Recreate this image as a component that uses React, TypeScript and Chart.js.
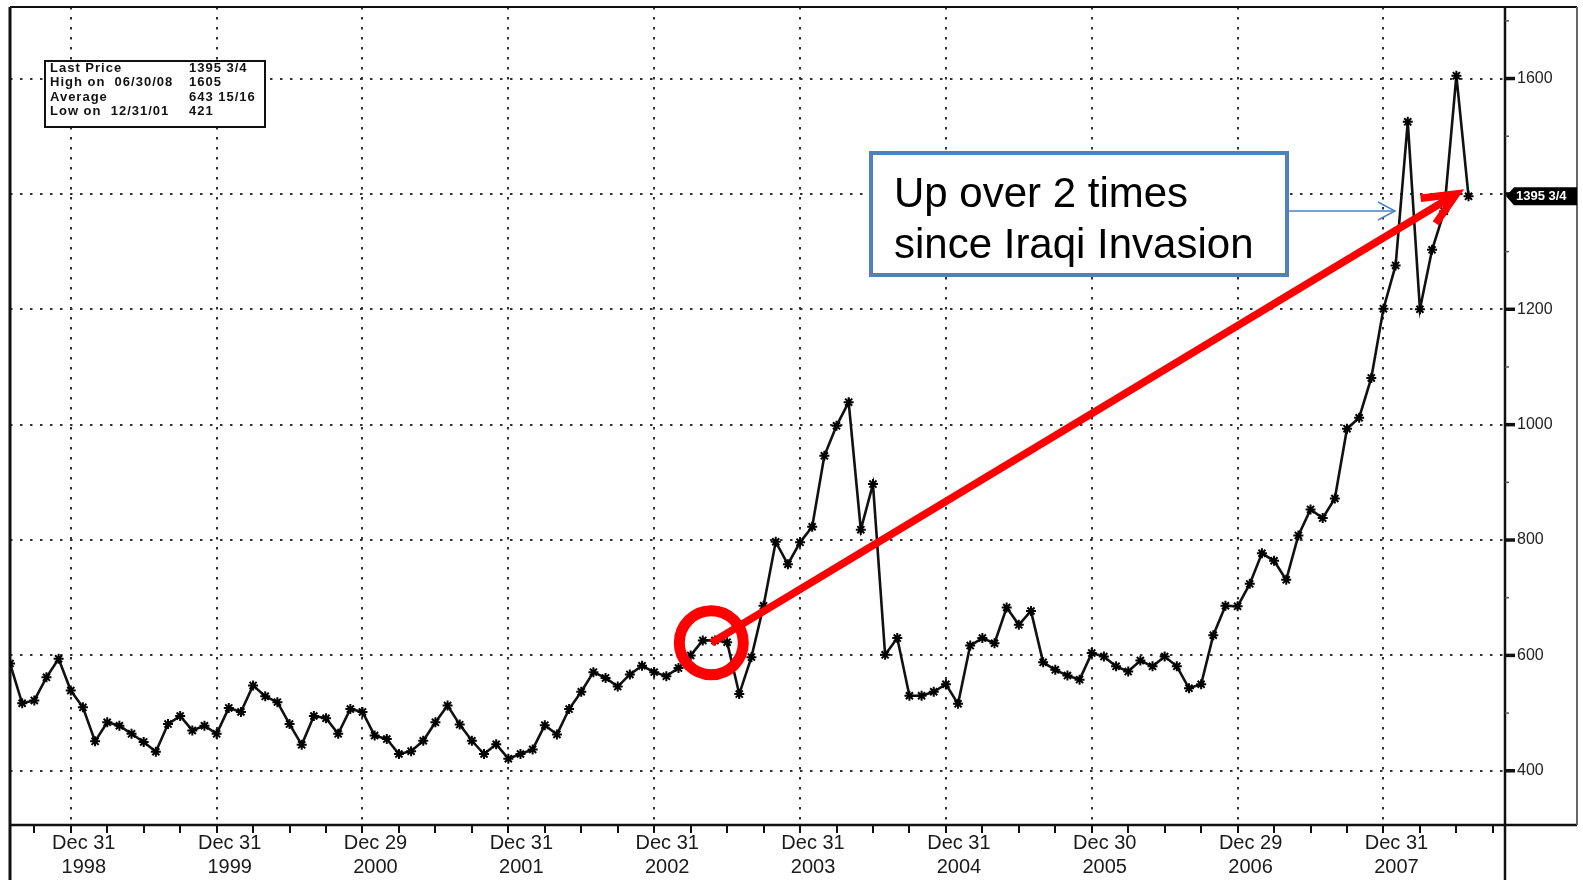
import React, { useEffect, useRef } from "react";
import { Chart, registerables } from "chart.js";

Chart.register(...registerables);

// Monthly closes, Jul 1998 (index 0) .. Jul 2008 (index 120)
const prices: number[] = [
  586, 517, 522, 562, 594, 539, 510, 451, 484, 478, 464, 450,
  433, 481, 495, 470, 478, 464, 509, 502, 548, 529, 519, 481,
  445, 495, 491, 464, 507, 502, 461, 455, 429, 434, 452, 484,
  513, 480, 452, 429, 446, 421, 429, 437, 479, 463, 507, 537,
  571, 561, 546, 567, 582, 571, 564, 578, 600, 626, 626, 623,
  533, 597, 686, 797, 758, 796, 823, 946, 998, 1039, 818, 897,
  601, 630, 530, 530, 537, 550, 516, 617, 630, 621, 683, 653,
  677, 588, 575, 565, 558, 604, 598, 581, 572, 591, 581, 598,
  581, 543, 550, 635, 686, 685, 724, 777, 764, 731, 808, 853,
  838, 872, 993, 1012, 1081, 1201, 1276, 1525, 1200, 1303, 1370, 1605,
  1395.75,
];

const yearTickIndices: number[] = [5, 17, 29, 41, 53, 65, 77, 89, 101, 113];
const yearTickLabels: string[][] = [
  ["Dec 31", "1998"], ["Dec 31", "1999"], ["Dec 29", "2000"], ["Dec 31", "2001"],
  ["Dec 31", "2002"], ["Dec 31", "2003"], ["Dec 31", "2004"], ["Dec 30", "2005"],
  ["Dec 29", "2006"], ["Dec 31", "2007"],
];
const quarterTickIndices: number[] = [
  2, 5, 8, 11, 14, 17, 20, 23, 26, 29, 32, 35, 38, 41, 44, 47, 50, 53, 56, 59,
  62, 65, 68, 71, 74, 77, 80, 83, 86, 89, 92, 95, 98, 101, 104, 107, 110, 113,
  116, 119, 122,
];
const yGridValues: number[] = [400, 600, 800, 1000, 1200, 1400, 1600];
const yMinorValues: number[] = [500, 700, 900, 1100, 1300, 1500, 1700];
const yLabelValues: number[] = [400, 600, 800, 1000, 1200, 1600];

const statLabels: string[] = ["Last Price", "High on  06/30/08", "Average", "Low on  12/31/01"];
const statValues: string[] = ["1395 3/4", "1605", "643 15/16", "421"];
const lastPriceLabel = "1395 3/4";
const calloutLines: string[] = ["Up over 2 times", "since Iraqi Invasion"];
const invasionMark = { x: 57.7, y: 622 };
const arrowTip = { x: 119.0, y: 1400 };

const FONT = '"Liberation Sans", Arial, sans-serif';

function seg(ctx: CanvasRenderingContext2D, x1: number, y1: number, x2: number, y2: number, w: number, c = "#111") {
  ctx.beginPath();
  ctx.lineWidth = w;
  ctx.strokeStyle = c;
  ctx.moveTo(x1, y1);
  ctx.lineTo(x2, y2);
  ctx.stroke();
}

const decorPlugin = {
  id: "bbgDecor",
  beforeDatasetsDraw(chart: any) {
    const { ctx, chartArea: a, scales } = chart;
    const x = scales.x, y = scales.y;
    const W = chart.width, H = chart.height;
    const boxRight = W - 6;
    ctx.save();
    // dotted grid
    ctx.setLineDash([2.5, 7.5]);
    for (const v of yGridValues) {
      const py = Math.round(y.getPixelForValue(v));
      seg(ctx, a.left, py, a.right, py, 2, "#333");
    }
    for (const i of yearTickIndices) {
      const px = Math.round(x.getPixelForValue(i));
      seg(ctx, px, a.top, px, a.bottom, 2, "#333");
    }
    ctx.setLineDash([]);
    // frame
    seg(ctx, a.left, a.top, boxRight, a.top, 2);
    seg(ctx, a.left, a.top, a.left, H, 3);
    seg(ctx, a.right, a.top, a.right, H, 2.5);
    seg(ctx, a.left, a.bottom, boxRight, a.bottom, 2.5);
    seg(ctx, boxRight, a.top, boxRight, a.bottom, 2, "#666");
    // x ticks
    for (const i of quarterTickIndices) {
      const px = Math.round(x.getPixelForValue(i));
      seg(ctx, px, a.bottom, px, a.bottom + 8, 2);
    }
    // y ticks
    for (const v of yGridValues) {
      const py = y.getPixelForValue(v);
      seg(ctx, a.right, py, a.right + 10, py, 3.5);
    }
    for (const v of yMinorValues) {
      const py = y.getPixelForValue(v);
      seg(ctx, a.right, py, a.right + 4, py, 1.5, "#555");
    }
    ctx.restore();
  },
  afterDraw(chart: any) {
    const { ctx, chartArea: a, scales } = chart;
    const x = scales.x, y = scales.y;
    const W = chart.width;
    ctx.save();

    // stats box
    ctx.fillStyle = "#fff";
    ctx.fillRect(45, 61, 220, 66);
    ctx.lineWidth = 2;
    ctx.strokeStyle = "#111";
    ctx.strokeRect(45, 61, 220, 66);
    ctx.fillStyle = "#111";
    ctx.font = `bold 13px ${FONT}`;
    (ctx as any).letterSpacing = "1px";
    ctx.textBaseline = "middle";
    ctx.textAlign = "left";
    statLabels.forEach((s, i) => {
      const ty = 68.5 + i * 14.4;
      ctx.fillText(s, 50, ty);
      ctx.fillText(statValues[i], 189, ty);
    });
    (ctx as any).letterSpacing = "0px";

    // callout box
    const bx = 871, by = 153, bw = 416, bh = 122;
    ctx.fillStyle = "#fff";
    ctx.fillRect(bx, by, bw, bh);
    ctx.lineWidth = 4;
    ctx.strokeStyle = "#4F81BD";
    ctx.strokeRect(bx, by, bw, bh);
    ctx.fillStyle = "#000";
    ctx.font = `42px ${FONT}`;
    ctx.textBaseline = "alphabetic";
    ctx.fillText(calloutLines[0], 894, 207);
    ctx.fillText(calloutLines[1], 894, 258);

    // blue pointer
    const ay = 211, ax0 = bx + bw + 2, ax1 = 1395;
    seg(ctx, ax0, ay, ax1, ay, 1.5, "#4F81BD");
    ctx.beginPath();
    ctx.moveTo(ax1 - 17, ay - 9);
    ctx.lineTo(ax1, ay);
    ctx.lineTo(ax1 - 17, ay + 9);
    ctx.stroke();

    // red circle and arrow
    const p0x = x.getPixelForValue(invasionMark.x), p0y = y.getPixelForValue(invasionMark.y);
    const p1x = x.getPixelForValue(arrowTip.x), p1y = y.getPixelForValue(arrowTip.y);
    ctx.strokeStyle = "#FF0000";
    ctx.lineWidth = 11;
    ctx.beginPath();
    ctx.arc(p0x, p0y, 32, 0, Math.PI * 2);
    ctx.stroke();
    const ang = Math.atan2(p1y - p0y, p1x - p0x);
    ctx.lineWidth = 7.5;
    ctx.lineCap = "butt";
    ctx.beginPath();
    ctx.moveTo(p0x, p0y);
    ctx.lineTo(p1x - 8 * Math.cos(ang), p1y - 8 * Math.sin(ang));
    ctx.stroke();
    const L = 36, spread = 0.42;
    ctx.lineJoin = "miter";
    ctx.beginPath();
    ctx.moveTo(p1x + L * Math.cos(ang + Math.PI - spread), p1y + L * Math.sin(ang + Math.PI - spread));
    ctx.lineTo(p1x, p1y);
    ctx.lineTo(p1x + L * Math.cos(ang + Math.PI + spread), p1y + L * Math.sin(ang + Math.PI + spread));
    ctx.stroke();

    // last price tag
    const ty = y.getPixelForValue(prices[prices.length - 1]);
    const tr = W - 6;
    ctx.fillStyle = "#000";
    ctx.beginPath();
    ctx.moveTo(a.right + 1, ty);
    ctx.lineTo(a.right + 9, ty - 9);
    ctx.lineTo(tr, ty - 9);
    ctx.lineTo(tr, ty + 9);
    ctx.lineTo(a.right + 9, ty + 9);
    ctx.closePath();
    ctx.fill();
    ctx.fillStyle = "#fff";
    ctx.font = `bold 13px ${FONT}`;
    ctx.textBaseline = "middle";
    ctx.textAlign = "left";
    ctx.fillText(lastPriceLabel, a.right + 11, ty + 0.5);

    ctx.restore();
  },
};

export default function App() {
  const ref = useRef<HTMLCanvasElement | null>(null);
  useEffect(() => {
    if (!ref.current) return;
    const chart = new Chart(ref.current, {
      type: "line",
      data: {
        datasets: [
          {
            data: prices.map((v, i) => ({ x: i, y: v })),
            borderColor: "#111",
            borderWidth: 2.6,
            pointStyle: "star",
            pointRadius: 5,
            pointBorderWidth: 2,
            pointBorderColor: "#000",
            pointBackgroundColor: "#000",
            tension: 0,
            fill: false,
          },
        ],
      },
      options: {
        animation: false,
        responsive: false,
        devicePixelRatio: 1,
        layout: { padding: { left: 10, top: 6, right: 0, bottom: 0 } },
        plugins: { legend: { display: false }, tooltip: { enabled: false }, title: { display: false } },
        scales: {
          x: {
            type: "linear",
            min: 0,
            max: 123,
            afterBuildTicks: (s: any) => {
              s.ticks = yearTickIndices.map((v) => ({ value: v }));
            },
            afterFit: (s: any) => {
              s.height = 55;
              s.paddingLeft = 0;
              s.paddingRight = 0;
            },
            grid: { display: false, drawTicks: false },
            border: { display: false },
            ticks: {
              autoSkip: false,
              maxRotation: 0,
              minRotation: 0,
              labelOffset: 13,
              padding: 6,
              color: "#1a1a1a",
              font: { family: FONT, size: 20 },
              callback: (value: any) => {
                const k = yearTickIndices.indexOf(Number(value));
                return k >= 0 ? yearTickLabels[k] : "";
              },
            },
          },
          y: {
            type: "linear",
            position: "right",
            min: 306,
            max: 1724,
            afterBuildTicks: (s: any) => {
              s.ticks = [...yGridValues, ...yMinorValues].sort((p, q) => p - q).map((v) => ({ value: v }));
            },
            afterFit: (s: any) => {
              s.width = 78;
              s.paddingTop = 0;
              s.paddingBottom = 0;
            },
            grid: { display: false, drawTicks: false },
            border: { display: false },
            ticks: {
              autoSkip: false,
              padding: 12,
              color: "#222",
              font: { family: FONT, size: 16 },
              callback: (value: any) => (yLabelValues.includes(Number(value)) ? String(value) : ""),
            },
          },
        },
      },
      plugins: [decorPlugin],
    } as any);
    return () => chart.destroy();
  }, []);
  return (
    <div style={{ position: "absolute", left: 0, top: 0, width: 1583, height: 880, background: "#fff" }}>
      <canvas ref={ref} width={1583} height={880} style={{ display: "block" }} />
    </div>
  );
}
